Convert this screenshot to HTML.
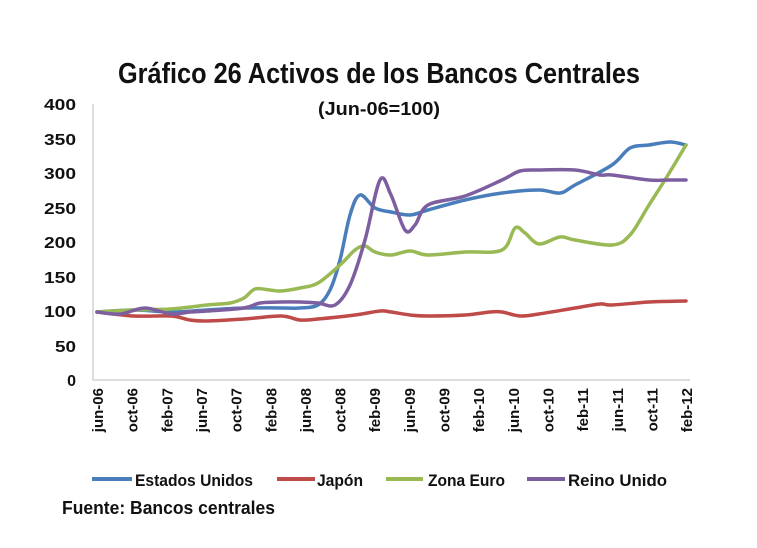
<!DOCTYPE html>
<html><head><meta charset="utf-8"><style>
body{margin:0;background:#fff;}
svg{display:block;font-family:"Liberation Sans",sans-serif;font-weight:bold;}
</style></head><body>
<svg id="s" width="757" height="548" viewBox="0 0 757 548">
<text x="118" y="83" font-size="29" textLength="522" lengthAdjust="spacingAndGlyphs" fill="#111">Gráfico 26 Activos de los Bancos Centrales</text>
<text x="318" y="115" font-size="18" textLength="122" lengthAdjust="spacingAndGlyphs" fill="#111">(Jun-06=100)</text>
<g font-size="16" text-anchor="end" fill="#111">
<text x="76" y="110" textLength="32" lengthAdjust="spacingAndGlyphs">400</text><text x="76" y="145" textLength="32" lengthAdjust="spacingAndGlyphs">350</text><text x="76" y="179" textLength="32" lengthAdjust="spacingAndGlyphs">300</text>
<text x="76" y="214" textLength="32" lengthAdjust="spacingAndGlyphs">250</text><text x="76" y="248" textLength="32" lengthAdjust="spacingAndGlyphs">200</text><text x="76" y="283" textLength="32" lengthAdjust="spacingAndGlyphs">150</text>
<text x="76" y="317" textLength="32" lengthAdjust="spacingAndGlyphs">100</text><text x="76" y="352" textLength="21" lengthAdjust="spacingAndGlyphs">50</text><text x="76" y="386">0</text>
</g>
<path d="M93,104V380H690" stroke="#bbb" fill="none"/>
<g id="xl" font-size="15" fill="#111" text-anchor="end"></g>
<g id="lines" fill="none" stroke-width="3.5" stroke-linecap="round" stroke-linejoin="round"></g>
<g font-size="17" fill="#111">
<line x1="92" y1="479" x2="132" y2="479" stroke="#4a7ebb" stroke-width="4"/><text x="135" y="486" textLength="118" lengthAdjust="spacingAndGlyphs">Estados Unidos</text>
<line x1="277" y1="479" x2="315" y2="479" stroke="#be4b48" stroke-width="4"/><text x="317" y="486" textLength="46" lengthAdjust="spacingAndGlyphs">Japón</text>
<line x1="386" y1="479" x2="423" y2="479" stroke="#98b954" stroke-width="4"/><text x="428" y="486" textLength="77" lengthAdjust="spacingAndGlyphs">Zona Euro</text>
<line x1="527" y1="479" x2="565" y2="479" stroke="#7d5fa0" stroke-width="4"/><text x="568" y="486" textLength="99" lengthAdjust="spacingAndGlyphs">Reino Unido</text>
<text x="62" y="514" font-size="18" textLength="213" lengthAdjust="spacingAndGlyphs">Fuente: Bancos centrales</text>
</g>
</svg>
<script>
var labs=["jun-06","oct-06","feb-07","jun-07","oct-07","feb-08","jun-08","oct-08","feb-09","jun-09","oct-09","feb-10","jun-10","oct-10","feb-11","jun-11","oct-11","feb-12"];
var xl=document.getElementById("xl"),h="";
labs.forEach(function(l,i){var x=97+i*34.65+6;h+='<text transform="translate('+x+',388) rotate(-90)">'+l+'</text>';});
xl.innerHTML=h;
var S={
"#4a7ebb":[[97,312],[134,310],[171,312],[207,310],[244,308],[281,308],[300,308],[318,305],[330,290],[340,260],[350,215],[360,195],[375,208],[391,212],[410,215],[428,210],[465,200],[502,193],[539,190],[560,193],[575,185],[612,165],[630,148],[649,145],[670,142],[686,145]],
"#be4b48":[[97,312],[134,316],[171,316],[190,320],[207,321],[244,319],[281,316],[300,320],[318,319],[355,315],[380,311],[391,312],[410,315],[428,316],[465,315],[490,312],[502,312],[520,316],[539,314],[575,308],[600,304],[612,305],[649,302],[686,301]],
"#98b954":[[97,312],[134,310],[171,309],[207,305],[230,303],[244,298],[255,289],[270,290],[281,291],[300,288],[318,283],[340,265],[355,250],[365,246],[375,252],[391,255],[410,251],[428,255],[465,252],[502,250],[515,228],[525,233],[539,244],[560,237],[575,240],[612,245],[630,235],[649,205],[668,175],[686,145]],
"#7d5fa0":[[97,312],[120,314],[145,308],[171,314],[190,312],[207,311],[244,308],[260,303],[281,302],[300,302],[318,303],[335,305],[350,285],[365,240],[380,180],[391,195],[405,230],[415,225],[428,205],[465,196],[502,180],[520,171],[539,170],[575,170],[600,175],[612,175],[649,180],[670,180],[686,180]]};
var g="";
["#4a7ebb","#be4b48","#98b954","#7d5fa0"].forEach(function(c){var p=S[c],d="M"+p[0];
for(var i=0;i<p.length-1;i++){var a=p[Math.max(i-1,0)],b=p[i],e=p[i+1],f=p[Math.min(i+2,p.length-1)];
d+="C"+(b[0]+(e[0]-a[0])/6)+","+(b[1]+(e[1]-a[1])/6)+" "+(e[0]-(f[0]-b[0])/6)+","+(e[1]-(f[1]-b[1])/6)+" "+e[0]+","+e[1];}
g+='<path d="'+d+'" stroke="'+c+'"/>';});
document.getElementById("lines").innerHTML=g;
</script>
</body></html>
